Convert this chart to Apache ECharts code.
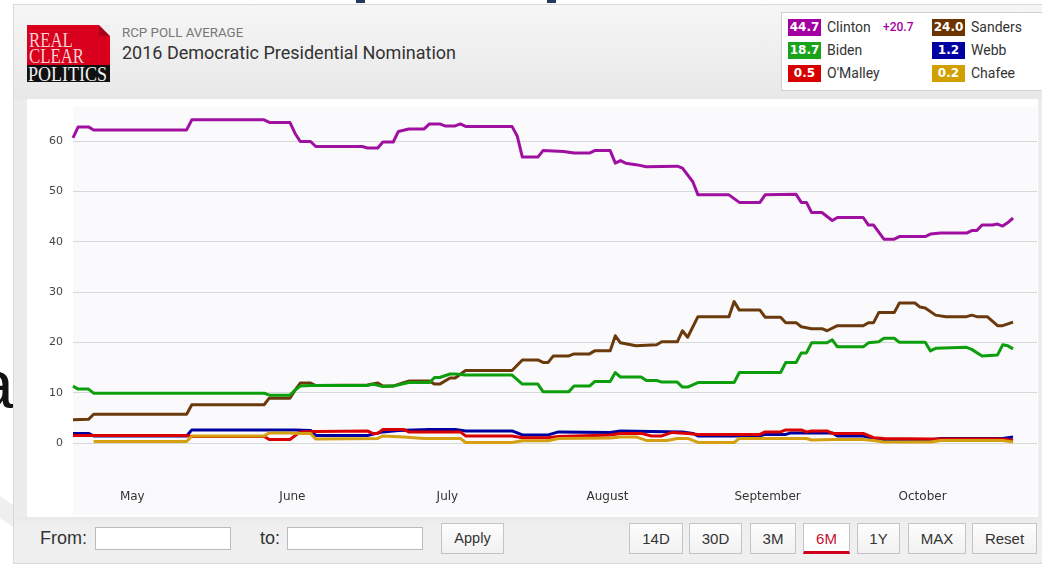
<!DOCTYPE html>
<html><head><meta charset="utf-8">
<script src="https://cdn.jsdelivr.net/npm/echarts@6/dist/echarts.min.js"></script>
<style>
html,body{margin:0;padding:0;width:1042px;height:569px;overflow:hidden;background:#fff;font-family:Roboto,'Liberation Sans',sans-serif;}
.abs{position:absolute;}
#biga{left:-24px;top:350px;font:68px 'Liberation Sans',Arial,sans-serif;color:#111;line-height:68px;}
#swoosh{left:-30px;top:498px;width:60px;height:18px;background:#efefef;transform:rotate(35deg);}
.mark{top:0;height:3px;width:9px;background:#1f3a5f;}
#widget{left:13px;top:4px;width:1040px;height:558px;border:1px solid #d8d8d8;background:#ececec;}
#header{left:14px;top:5px;width:1040px;height:94px;background:linear-gradient(#f6f6f6,#e8e8e8);}
#logo{left:27px;top:25px;width:83px;height:57px;overflow:hidden;}
#logo .red{position:absolute;left:0;top:0;width:83px;height:40px;background:#d8001c;}
#logo .fold{position:absolute;right:0;top:0;width:0;height:0;border-top:11px solid #eeeeee;border-left:11px solid #a8001a;}
#logo .blk{position:absolute;left:0;top:40px;width:83px;height:17px;background:#111;}
#logo span{position:absolute;left:2px;font-family:'Liberation Serif','DejaVu Serif',serif;color:#f6d0d4;line-height:1;transform-origin:0 0;white-space:nowrap;}
#sub{left:122px;top:25px;font-size:13.3px;color:#777;}
#title{left:122px;top:42px;font-size:18px;color:#333;}
#legend{left:781px;top:12px;width:270px;height:77px;background:#fff;border:1px solid #d0d0d0;}
.badge{position:absolute;width:33px;height:17px;color:#fff;font:bold 12px 'DejaVu Sans',Verdana,sans-serif;text-align:center;line-height:17px;}
.lname{position:absolute;font-size:14px;color:#333;line-height:17px;}
#panel{left:27px;top:99px;width:1011px;height:418px;background:#fff;}
#plotbg{left:73px;top:107px;width:964px;height:408px;background:#fafafc;}
#chart{left:27px;top:99px;width:1011px;height:418px;}
#bottom{left:14px;top:517px;width:1040px;height:45px;background:linear-gradient(#e9e9e9,#efefef 20%,#f0f0f0);}
.lbl{position:absolute;font:18px 'Liberation Sans',Arial,sans-serif;color:#333;}
.inp{position:absolute;top:527px;height:21px;background:#fff;border:1px solid #bbb;}
.btn{position:absolute;top:523px;height:29px;background:linear-gradient(#fdfdfd,#f1f1f1);border:1px solid #c4c4c4;font:15px 'Liberation Sans',Arial,sans-serif;color:#333;text-align:center;line-height:29px;box-sizing:content-box;}
</style></head>
<body>
<div id="biga" class="abs">a</div>
<div id="swoosh" class="abs"></div>
<div class="abs mark" style="left:356px"></div>
<div class="abs mark" style="left:547px"></div>
<div id="widget" class="abs"></div>
<div id="header" class="abs"></div>
<div id="logo" class="abs">
  <div class="red"></div><div class="fold"></div><div class="blk"></div>
  <span style="top:5px;font-size:21px;transform:scaleX(0.8);">REAL</span>
  <span style="top:21px;font-size:21px;transform:scaleX(0.8);">CLEAR</span>
  <span style="top:39px;font-size:20px;left:1px;color:#f2f2f2;transform:scaleX(0.9);">POLITICS</span>
</div>
<div id="sub" class="abs">RCP POLL AVERAGE</div>
<div id="title" class="abs">2016 Democratic Presidential Nomination</div>
<div id="legend" class="abs"></div>
<div id="panel" class="abs"></div>
<div id="plotbg" class="abs"></div>
<div id="chart" class="abs"></div>
<div id="bottom" class="abs"></div>
<div class="lbl" style="left:40px;top:528px;">From:</div>
<div class="inp" style="left:95px;width:134px;"></div>
<div class="lbl" style="left:260px;top:528px;">to:</div>
<div class="inp" style="left:287px;width:134px;"></div>
<div id="buttons"></div>
<script>
// ---- data ----
const seriesNames = ['Clinton', 'Sanders', 'Biden', 'Webb', "O'Malley", 'Chafee'];
const seriesColors = ['#a010a0', '#6b3a0c', '#0c9e0c', '#0000a0', '#d80000', '#d4a012'];
const badgeColors = ['#a300a3', '#6b3400', '#1aa31a', '#0000a0', '#d70000', '#d1a000'];
const latestValues = ['44.7', '24.0', '18.7', '1.2', '0.5', '0.2'];
const leadSpread = '+20.7';
const monthNames = ['January','February','March','April','May','June','July','August','September','October','November','December'];
const yTickLabels = [0, 10, 20, 30, 40, 50, 60];
const rangeButtons = ['14D', '30D', '3M', '6M', '1Y', 'MAX', 'Reset'];

const clinton = [
 ['2015-04-20',60.6],['2015-04-21',62.8],['2015-04-23',62.8],['2015-04-24',62.2],['2015-05-12',62.2],['2015-05-13',64.2],
 ['2015-05-27',64.2],['2015-05-28',63.7],['2015-06-01',63.7],['2015-06-02',61.5],['2015-06-03',59.9],['2015-06-05',59.9],
 ['2015-06-06',58.9],['2015-06-15',58.9],['2015-06-16',58.6],['2015-06-18',58.6],['2015-06-19',59.8],['2015-06-21',59.8],
 ['2015-06-22',61.9],['2015-06-24',62.4],['2015-06-27',62.4],['2015-06-28',63.4],['2015-06-30',63.4],['2015-07-01',63.0],
 ['2015-07-03',63.0],['2015-07-04',63.4],['2015-07-05',62.9],['2015-07-14',62.9],['2015-07-15',61.0],['2015-07-16',56.8],
 ['2015-07-19',56.8],['2015-07-20',58.1],['2015-07-24',57.9],['2015-07-26',57.6],['2015-07-29',57.6],['2015-07-30',58.1],
 ['2015-08-02',58.1],['2015-08-03',55.6],['2015-08-04',56.1],['2015-08-05',55.6],['2015-08-07',55.3],['2015-08-09',54.9],
 ['2015-08-15',55.0],['2015-08-16',54.6],['2015-08-18',51.9],['2015-08-19',49.3],['2015-08-25',49.3],['2015-08-27',47.8],
 ['2015-08-31',47.8],['2015-09-01',49.3],['2015-09-07',49.4],['2015-09-08',47.8],['2015-09-09',47.8],['2015-09-10',45.8],
 ['2015-09-12',45.8],['2015-09-14',44.2],['2015-09-15',44.8],['2015-09-20',44.8],['2015-09-21',43.3],['2015-09-22',43.3],
 ['2015-09-24',40.5],['2015-09-26',40.5],['2015-09-27',41.0],['2015-10-02',41.0],['2015-10-03',41.5],['2015-10-05',41.7],
 ['2015-10-10',41.7],['2015-10-11',42.2],['2015-10-12',42.2],['2015-10-13',43.3],['2015-10-15',43.3],['2015-10-16',43.5],
 ['2015-10-17',43.1],['2015-10-18',43.8],['2015-10-19',44.7]
];
const sanders = [
 ['2015-04-20',4.6],['2015-04-23',4.7],['2015-04-24',5.7],['2015-05-12',5.7],['2015-05-13',7.6],['2015-05-27',7.6],
 ['2015-05-28',8.9],['2015-06-01',8.9],['2015-06-02',10.5],['2015-06-03',11.9],['2015-06-05',11.9],['2015-06-06',11.4],
 ['2015-06-16',11.5],['2015-06-18',11.9],['2015-06-19',11.3],['2015-06-21',11.3],['2015-06-23',12.0],['2015-06-24',12.3],
 ['2015-06-28',12.3],['2015-06-29',11.7],['2015-06-30',11.7],['2015-07-02',12.9],['2015-07-03',12.9],['2015-07-05',14.4],
 ['2015-07-14',14.4],['2015-07-16',16.5],['2015-07-19',16.5],['2015-07-20',16.0],['2015-07-21',16.0],['2015-07-22',17.3],
 ['2015-07-25',17.3],['2015-07-26',17.7],['2015-07-29',17.7],['2015-07-30',18.3],['2015-08-02',18.3],['2015-08-03',21.3],
 ['2015-08-04',19.9],['2015-08-07',19.3],['2015-08-11',19.5],['2015-08-12',20.1],['2015-08-15',20.1],['2015-08-16',22.3],
 ['2015-08-17',21.0],['2015-08-19',25.1],['2015-08-25',25.1],['2015-08-26',28.1],['2015-08-27',26.4],['2015-08-31',26.4],
 ['2015-09-01',25.0],['2015-09-04',25.0],['2015-09-05',23.9],['2015-09-07',23.9],['2015-09-08',23.1],['2015-09-10',22.7],
 ['2015-09-12',22.7],['2015-09-13',22.3],['2015-09-15',23.3],['2015-09-20',23.3],['2015-09-21',23.9],['2015-09-22',23.9],
 ['2015-09-23',25.9],['2015-09-26',25.9],['2015-09-27',27.8],['2015-09-30',27.8],['2015-10-01',27.0],['2015-10-02',26.8],
 ['2015-10-04',25.4],['2015-10-06',25.1],['2015-10-10',25.1],['2015-10-11',25.4],['2015-10-12',25.1],['2015-10-14',25.1],
 ['2015-10-16',23.3],['2015-10-17',23.3],['2015-10-19',24.0]
];
const biden = [
 ['2015-04-20',11.3],['2015-04-21',10.7],['2015-04-23',10.7],['2015-04-24',9.9],['2015-05-27',9.9],['2015-05-28',9.5],
 ['2015-06-01',9.5],['2015-06-02',10.5],['2015-06-03',11.3],['2015-06-05',11.4],['2015-06-16',11.4],['2015-06-17',11.7],
 ['2015-06-19',11.2],['2015-06-21',11.3],['2015-06-24',12.0],['2015-06-28',12.0],['2015-06-29',13.0],['2015-06-30',13.0],
 ['2015-07-02',13.7],['2015-07-03',13.7],['2015-07-05',13.5],['2015-07-14',13.5],['2015-07-16',11.7],['2015-07-19',11.7],
 ['2015-07-20',10.2],['2015-07-25',10.2],['2015-07-26',11.3],['2015-07-29',11.3],['2015-07-30',12.2],['2015-08-02',12.2],
 ['2015-08-03',14.0],['2015-08-04',13.1],['2015-08-08',13.1],['2015-08-09',12.4],['2015-08-11',12.4],['2015-08-12',12.1],
 ['2015-08-15',12.1],['2015-08-16',11.1],['2015-08-17',11.1],['2015-08-19',12.0],['2015-08-26',12.0],['2015-08-27',14.0],
 ['2015-09-04',14.0],['2015-09-05',16.0],['2015-09-07',16.0],['2015-09-08',17.9],['2015-09-09',17.9],['2015-09-10',19.9],
 ['2015-09-13',19.9],['2015-09-14',20.5],['2015-09-15',19.1],['2015-09-20',19.1],['2015-09-21',19.9],['2015-09-23',20.1],
 ['2015-09-24',20.8],['2015-09-26',20.8],['2015-09-27',20.0],['2015-10-02',20.0],['2015-10-03',18.3],['2015-10-04',18.8],
 ['2015-10-10',19.0],['2015-10-11',18.6],['2015-10-13',17.3],['2015-10-16',17.5],['2015-10-17',19.5],['2015-10-18',19.3],
 ['2015-10-19',18.7]
];
const webb = [
 ['2015-04-20',1.9],['2015-04-23',1.9],['2015-04-24',1.4],['2015-05-12',1.4],['2015-05-13',2.6],['2015-06-02',2.6],
 ['2015-06-05',2.5],['2015-06-06',1.5],['2015-06-16',1.5],['2015-06-19',2.2],['2015-06-22',2.5],['2015-06-28',2.7],
 ['2015-07-03',2.7],['2015-07-05',2.4],['2015-07-14',2.4],['2015-07-16',1.6],['2015-07-21',1.6],['2015-07-23',2.2],
 ['2015-08-02',2.1],['2015-08-04',2.4],['2015-08-16',2.2],['2015-08-18',1.9],['2015-08-19',1.4],['2015-08-31',1.4],
 ['2015-09-01',1.7],['2015-09-05',1.7],['2015-09-06',2.0],['2015-09-14',2.0],['2015-09-15',1.4],['2015-09-20',1.4],
 ['2015-09-22',0.9],['2015-09-24',0.6],['2015-10-03',0.6],['2015-10-05',0.9],['2015-10-17',0.9],['2015-10-19',1.2]
];
const omalley = [
 ['2015-04-20',1.5],['2015-05-12',1.5],['2015-05-13',1.3],['2015-05-27',1.3],['2015-05-28',0.7],['2015-06-01',0.7],
 ['2015-06-03',2.2],['2015-06-06',2.3],['2015-06-16',2.4],['2015-06-17',1.9],['2015-06-18',1.9],['2015-06-19',2.7],
 ['2015-06-23',2.7],['2015-06-24',2.2],['2015-07-04',2.2],['2015-07-05',1.4],['2015-07-14',1.4],['2015-07-16',1.05],
 ['2015-07-21',1.05],['2015-07-23',1.3],['2015-08-02',1.6],['2015-08-04',1.9],['2015-08-08',1.9],['2015-08-10',1.4],
 ['2015-08-12',1.4],['2015-08-14',2.1],['2015-08-17',1.9],['2015-08-19',1.7],['2015-08-31',1.7],['2015-09-01',2.2],
 ['2015-09-04',2.2],['2015-09-05',2.6],['2015-09-08',2.6],['2015-09-09',2.2],['2015-09-10',2.4],['2015-09-13',2.4],
 ['2015-09-14',1.9],['2015-09-20',1.9],['2015-09-22',1.05],['2015-09-24',0.9],['2015-10-03',0.8],['2015-10-17',0.8],
 ['2015-10-19',0.5]
];
const chafee = [
 ['2015-04-24',0.3],['2015-05-12',0.3],['2015-05-13',1.4],['2015-05-27',1.4],['2015-05-28',2.0],['2015-06-01',2.0],
 ['2015-06-03',1.9],['2015-06-05',1.9],['2015-06-06',0.8],['2015-06-18',0.9],['2015-06-19',1.4],['2015-06-23',1.2],
 ['2015-06-27',0.9],['2015-07-04',0.9],['2015-07-05',0.1],['2015-07-14',0.1],['2015-07-16',0.45],['2015-07-21',0.45],
 ['2015-07-23',0.9],['2015-08-02',1.0],['2015-08-04',1.2],['2015-08-07',1.2],['2015-08-09',0.5],['2015-08-13',0.5],
 ['2015-08-15',0.9],['2015-08-17',0.9],['2015-08-19',0.1],['2015-08-26',0.1],['2015-08-27',0.9],['2015-09-09',0.9],
 ['2015-09-10',0.6],['2015-09-14',0.7],['2015-09-20',0.7],['2015-09-22',0.5],['2015-09-24',0.2],['2015-10-03',0.2],
 ['2015-10-05',0.5],['2015-10-17',0.5],['2015-10-19',0.2]
];
const seriesData = [clinton, sanders, biden, webb, omalley, chafee];

// ---- legend (HTML) ----
const lg = document.getElementById('legend');
const legendPos = [[6,6],[150,6],[6,29],[150,29],[6,52],[150,52]];
seriesNames.forEach((n, i) => {
  const [x, y] = legendPos[i];
  const b = document.createElement('div'); b.className = 'badge';
  b.style.left = x + 'px'; b.style.top = y + 'px'; b.style.background = badgeColors[i];
  b.textContent = latestValues[i]; lg.appendChild(b);
  const t = document.createElement('div'); t.className = 'lname';
  t.style.left = (x + 39) + 'px'; t.style.top = y + 'px'; t.textContent = n; lg.appendChild(t);
});
const sp = document.createElement('div'); sp.className = 'lname';
sp.style.cssText = 'left:101px;top:6px;font-size:12px;color:#a300a3;font-weight:500;';
sp.textContent = leadSpread; lg.appendChild(sp);

// ---- buttons ----
const bx = document.getElementById('buttons');
const apply = document.createElement('div'); apply.className = 'btn';
apply.style.cssText = 'left:441px;width:61px;font-size:14.5px;'; apply.textContent = 'Apply'; bx.appendChild(apply);
const btnPos = [[629,52],[689,51],[750,44],[803,45],[857,41],[908,56],[972,63]];
rangeButtons.forEach((s, i) => {
  const d = document.createElement('div'); d.className = 'btn';
  d.style.left = btnPos[i][0] + 'px'; d.style.width = btnPos[i][1] + 'px';
  if (s === '6M') { d.style.color = '#c8102e'; d.style.background = '#fff'; d.style.borderBottom = '3px solid #d0021b'; d.style.height = '27px'; }
  d.textContent = s; bx.appendChild(d);
});

// ---- chart ----
const dayMs = 86400000;
const xMin = new Date(2015, 3, 20).getTime();
const xMax = xMin + 186.64 * dayMs;
const chart = echarts.init(document.getElementById('chart'));
chart.setOption({
  animation: false,
  backgroundColor: 'transparent',
  grid: { left: 46, right: 1, top: 11.8, bottom: 23.7, containLabel: false },
  xAxis: {
    type: 'time', min: xMin, max: xMax,
    minInterval: 28 * dayMs, maxInterval: 31 * dayMs,
    axisLine: { show: false }, axisTick: { show: false }, splitLine: { show: false },
    axisLabel: {
      margin: -2, padding: [0, 0, 0, 5], fontFamily: 'DejaVu Sans, Verdana, sans-serif', fontSize: 12, color: '#333',
      hideOverlap: false,
      formatter: function (v) {
        const d = new Date(v);
        return d.getDate() === 1 ? monthNames[d.getMonth()] : '';
      }
    }
  },
  yAxis: {
    type: 'value', min: -10, max: 66, interval: 10,
    axisLine: { show: false }, axisTick: { show: false },
    splitLine: { show: true, showMinLine: false, showMaxLine: false, lineStyle: { color: '#d8d8d8', width: 1 } },
    axisLabel: {
      margin: 10, fontFamily: 'DejaVu Sans, Verdana, sans-serif', fontSize: 11, color: '#444',
      formatter: function (v) { return yTickLabels.indexOf(v) >= 0 ? String(v) : ''; }
    }
  },
  series: seriesNames.map((n, i) => ({
    name: n, type: 'line', data: seriesData[i], showSymbol: false, symbol: 'none',
    lineStyle: { color: seriesColors[i], width: 3, join: 'round' },
    itemStyle: { color: seriesColors[i] }, z: 2 + i, silent: true
  }))
});
</script>
</body></html>
